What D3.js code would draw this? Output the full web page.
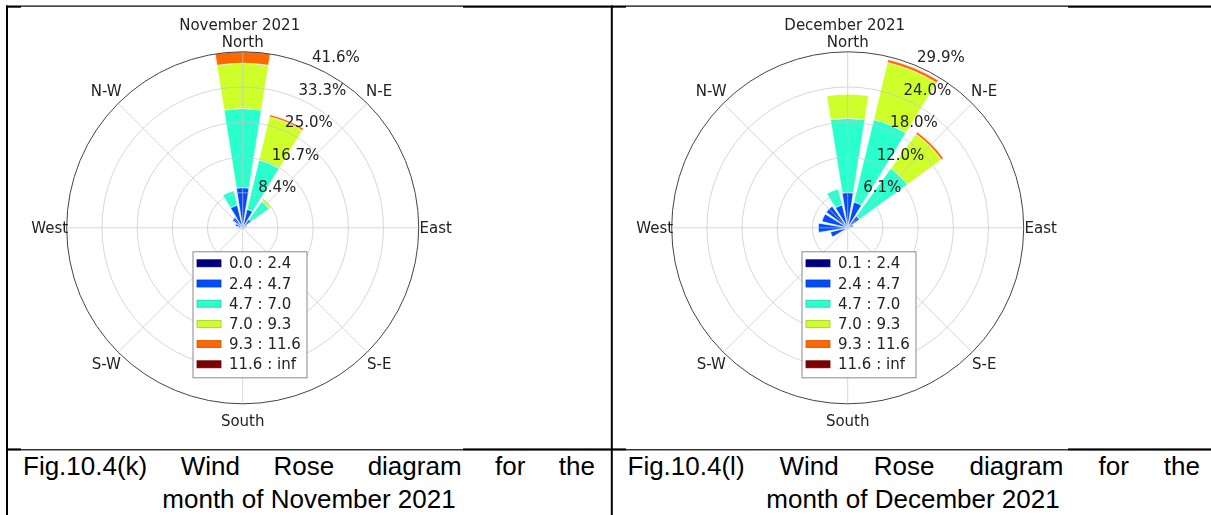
<!DOCTYPE html>
<html><head><meta charset="utf-8">
<script src="https://cdn.jsdelivr.net/npm/d3@7/dist/d3.min.js"></script>
<style>
html,body{margin:0;padding:0;background:#fff;}
svg{display:block;}
</style></head>
<body>
<svg id="fig" width="1211" height="515"></svg>
<script>
// ---------------- DATA ----------------
const directions = ["N","NNE","NE","ENE","E","ESE","SE","SSE","S","SSW","SW","WSW","W","WNW","NW","NNW"];
const compassLabels = ["North","N-E","East","S-E","South","S-W","West","N-W"];
const binColors = ["#000080","#004dff","#29ffce","#ceff29","#ff6800","#800000"];

// November 2021 (percent of time per speed bin, by direction)
const novTitle = "November 2021";
const novBinLabels = ["0.0 : 2.4","2.4 : 4.7","4.7 : 7.0","7.0 : 9.3","9.3 : 11.6","11.6 : inf"];
const novTickLabels = ["8.4%","16.7%","25.0%","33.3%","41.6%"];
const novMax = 41.6;
const novBin1 = [1.0,0.8,0.5,0.3,0.2,0,0,0,0,0,0,0.1,0.2,0.3,0.5,0.8];
const novBin2 = [8.5,3.7,2.0,0.7,0.3,0,0,0,0,0,0,0.3,0.8,1.5,2.5,4.7];
const novBin3 = [18.7,12.0,5.2,0,0,0,0,0,0,0,0,0,0,0,0,3.5];
const novBin4 = [10.7,10.5,0.7,0,0,0,0,0,0,0,0,0,0,0,0,0];
const novBin5 = [2.7,0.5,0,0,0,0,0,0,0,0,0,0,0,0,0,0];
const novBin6 = [0,0,0,0,0,0,0,0,0,0,0,0,0,0,0,0];

// December 2021
const decTitle = "December 2021";
const decBinLabels = ["0.1 : 2.4","2.4 : 4.7","4.7 : 7.0","7.0 : 9.3","9.3 : 11.6","11.6 : inf"];
const decTickLabels = ["6.1%","12.0%","18.0%","24.0%","29.9%"];
const decMax = 29.9;
const decBin1 = [0.5,0.5,0.4,0.2,0.1,0,0,0,0,0,0,0.3,0.3,0.4,0.4,0.4];
const decBin2 = [5.5,4.0,2.1,0.8,0.3,0,0,0,0,0,0,2.7,4.7,4.1,4.1,3.6];
const decBin3 = [12.6,14.4,10.0,0,0,0,0,0,0,0,0,0,0,0,0,2.8];
const decBin4 = [4.1,10.0,7.2,0,0,0,0,0,0,0,0,0,0,0,0,0];
const decBin5 = [0,0.5,0.4,0,0,0,0,0,0,0,0,0,0,0,0,0];
const decBin6 = [0,0,0,0,0,0,0,0,0,0,0,0,0,0,0,0];

// Captions
const captionLeft = ["Fig.10.4(k)","Wind","Rose","diagram","for","the"];
const captionLeft2 = "month of November 2021";
const captionRight = ["Fig.10.4(l)","Wind","Rose","diagram","for","the"];
const captionRight2 = "month of December 2021";

// ---------------- DRAWING ----------------
const svg = d3.select("#fig");
const defs = svg.append("defs");
defs.append("filter").attr("id","soft").attr("x","-5%").attr("y","-5%").attr("width","110%").attr("height","110%")
  .append("feGaussianBlur").attr("stdDeviation",0.6);

const FONT = "'DejaVu Sans', sans-serif";
const FS = 15;
const TXT = "#222";
const R = 176;

function drawRose(cx, cy, cfg) {
  const g = svg.append("g").attr("transform",`translate(${cx},${cy})`).attr("filter","url(#soft)");
  const r = d3.scaleLinear().domain([0, cfg.rmax]).range([0, R]);
  const ang = d3.scaleLinear().domain([0, directions.length]).range([0, 2*Math.PI]);
  const half = Math.PI/directions.length*0.8;

  const keys = ["b1","b2","b3","b4","b5","b6"];
  const rows = directions.map((d,i)=>{
    const o = {dir:d, i:i};
    cfg.series.forEach((s,k)=>o[keys[k]] = s[i]);
    return o;
  });
  const stacked = d3.stack().keys(keys)(rows);
  const arc = d3.arc();

  // bars
  stacked.forEach((layer,k)=>{
    g.append("g").selectAll("path").data(layer.filter(d=>d[1]-d[0]>0)).join("path")
      .attr("d", d=>{
        const a = ang(d.data.i);
        return arc({innerRadius:r(d[0]), outerRadius:r(d[1]), startAngle:a-half, endAngle:a+half});
      })
      .attr("fill", binColors[k])
      .attr("stroke","#ffffff").attr("stroke-width",0.6);
  });

  // grid (drawn above bars as in matplotlib)
  const tickVals = d3.range(1,6).map(i=>cfg.rmax*i/5);
  g.append("g").selectAll("circle").data(tickVals.slice(0,4)).join("circle")
    .attr("r", d=>r(d)).attr("fill","none").attr("stroke","#c4c4c4").attr("stroke-width",0.9).attr("stroke-opacity",0.75);
  g.append("g").selectAll("line").data(d3.range(8)).join("line")
    .attr("x1",0).attr("y1",0)
    .attr("x2", d=>R*Math.sin(d*Math.PI/4)).attr("y2", d=>-R*Math.cos(d*Math.PI/4))
    .attr("stroke","#c4c4c4").attr("stroke-width",0.9).attr("stroke-opacity",0.75);
  // spine
  g.append("circle").attr("r",R).attr("fill","none").attr("stroke","#444").attr("stroke-width",1);

  // radial tick labels at 22.5 deg
  const la = 22.5*Math.PI/180;
  g.append("g").selectAll("text").data(tickVals).join("text")
    .attr("x", d=>r(d)*Math.sin(la)+2)
    .attr("y", d=>-r(d)*Math.cos(la)-3)
    .attr("font-family",FONT).attr("font-size",FS).attr("fill",TXT)
    .text((d,i)=>cfg.tickLabels[i]);

  // compass labels
  g.append("g").selectAll("text").data(compassLabels).join("text")
    .each(function(d,i){
      const a = i*Math.PI/4;
      const s = Math.sin(a), c = Math.cos(a);
      let rr = 193;
      if (i===0) rr = 186;
      d3.select(this).attr("x", rr*s).attr("y", -rr*c);
    })
    .attr("text-anchor","middle").attr("dominant-baseline","central")
    .attr("font-family",FONT).attr("font-size",FS).attr("fill",TXT)
    .text(d=>d);

  // title
  g.append("text").attr("x",-3).attr("y",-203).attr("text-anchor","middle").attr("dominant-baseline","central")
    .attr("font-family",FONT).attr("font-size",FS).attr("fill",TXT).text(cfg.title);

  // legend
  const lg = g.append("g").attr("transform",`translate(${cfg.legendDx},24)`);
  lg.append("rect").attr("x",0).attr("y",0).attr("width",114).attr("height",126)
    .attr("fill","#fff").attr("fill-opacity",0.85).attr("stroke","#8a8a8a").attr("stroke-width",1);
  const items = lg.selectAll("g.item").data(cfg.binLabels).join("g").attr("class","item")
    .attr("transform",(d,i)=>`translate(0,${11.5+i*20.2})`);
  items.append("rect").attr("x",4).attr("y",-3.5).attr("width",24).attr("height",7)
    .attr("fill",(d,i)=>binColors[i]).attr("stroke",(d,i)=>d3.color(binColors[i]).darker(0.6)).attr("stroke-width",0.8);
  items.append("text").attr("x",36).attr("y",0).attr("dominant-baseline","central")
    .attr("font-family",FONT).attr("font-size",FS).attr("fill",TXT).text(d=>d);
}

// table frame
const frame = svg.append("g").attr("fill","#000");
frame.append("rect").attr("x",6).attr("y",5.5).attr("width",2).attr("height",510);
frame.append("rect").attr("x",610.8).attr("y",5.5).attr("width",2).attr("height",510);
[[6,21,2.2],[21,463,1.2],[463,626,2.2],[626,1068,1.2],[1068,1211,2.2]].forEach(s=>{
  frame.append("rect").attr("x",s[0]).attr("y",5.5).attr("width",s[1]-s[0]).attr("height",s[2]);
});
[[6,21,2.2],[21,463,1.2],[463,626,2.2],[626,1068,1.2],[1068,1211,2.2]].forEach(s=>{
  frame.append("rect").attr("x",s[0]).attr("y",s[2]>2?448.4:449.2).attr("width",s[1]-s[0]).attr("height",s[2]);
});

drawRose(242.7, 227.8, {title:novTitle, rmax:novMax, tickLabels:novTickLabels, binLabels:novBinLabels,
  series:[novBin1,novBin2,novBin3,novBin4,novBin5,novBin6], legendDx:-49.7});
drawRose(847.7, 227.8, {title:decTitle, rmax:decMax, tickLabels:decTickLabels, binLabels:decBinLabels,
  series:[decBin1,decBin2,decBin3,decBin4,decBin5,decBin6], legendDx:-45.7});

// captions
const CAP_FONT = "'Liberation Sans', Arial, sans-serif";
function justifiedLine(words, x0, x1, y) {
  const tg = svg.append("g").attr("font-family",CAP_FONT).attr("font-size",26).attr("fill","#000");
  const nodes = words.map(w=>tg.append("text").attr("y",y).text(w));
  const widths = nodes.map(n=>n.node().getComputedTextLength());
  const total = d3.sum(widths);
  const gap = (x1-x0-total)/(words.length-1);
  let x = x0;
  nodes.forEach((n,i)=>{ n.attr("x",x); x += widths[i]+gap; });
}
justifiedLine(captionLeft, 23, 595, 475);
justifiedLine(captionRight, 627.5, 1200, 475);
svg.append("text").attr("x",309).attr("y",508).attr("text-anchor","middle")
  .attr("font-family",CAP_FONT).attr("font-size",26).attr("fill","#000").text(captionLeft2);
svg.append("text").attr("x",913).attr("y",508).attr("text-anchor","middle")
  .attr("font-family",CAP_FONT).attr("font-size",26).attr("fill","#000").text(captionRight2);
</script>
</body></html>
